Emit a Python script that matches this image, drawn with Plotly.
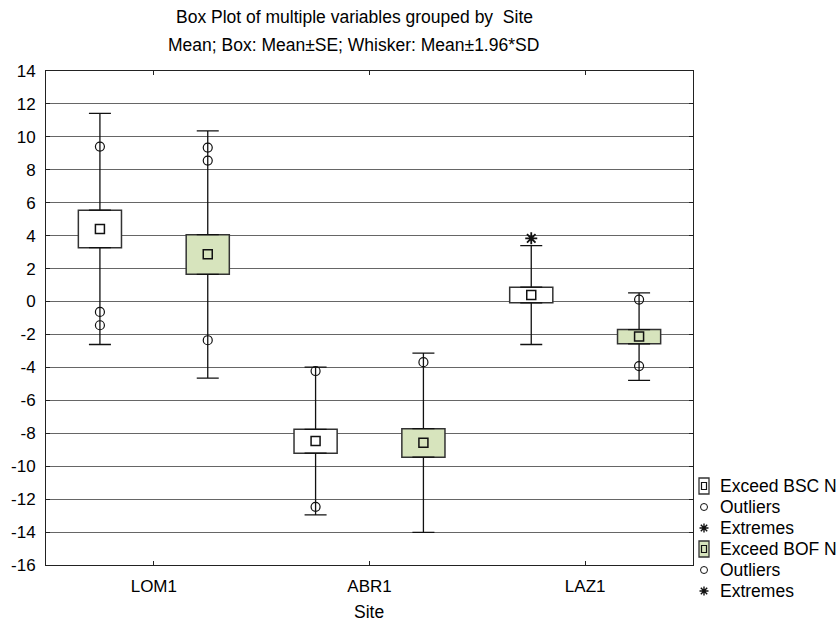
import plotly.graph_objects as go

# ---------------- data ----------------
sites = ["LOM1", "ABR1", "LAZ1"]
series_names = ["Exceed BSC N", "Exceed BOF N"]

bsc_mean = [4.40, -8.47, 0.40]
bsc_box_lo = [3.27, -9.21, -0.08]      # mean - SE
bsc_box_hi = [5.55, -7.76, 0.87]       # mean + SE
bsc_whisk_lo = [-2.61, -12.95, -2.61]  # mean - 1.96*SD
bsc_whisk_hi = [11.43, -3.98, 3.39]    # mean + 1.96*SD
bsc_outliers = [[9.41, -0.63, -1.44], [-4.22, -12.47], []]
bsc_extremes = [[], [], [3.84]]

bof_mean = [2.87, -8.57, -2.13]
bof_box_lo = [1.65, -9.45, -2.57]
bof_box_hi = [4.06, -7.72, -1.70]
bof_whisk_lo = [-4.65, -14.02, -4.79]
bof_whisk_hi = [10.36, -3.13, 0.52]
bof_outliers = [[9.35, 8.56, -2.35], [-3.68], [0.12, -3.92]]
bof_extremes = [[], [], []]

y_ticks = list(range(-16, 15, 2))

title_line1 = "Box Plot of multiple variables grouped by  Site"
title_line2 = "Mean; Box: Mean±SE; Whisker: Mean±1.96*SD"
x_title = "Site"
legend_labels = ["Exceed BSC N", "Outliers", "Extremes",
                 "Exceed BOF N", "Outliers", "Extremes"]

# ---------------- styling ----------------
FONT = "Liberation Sans, Arial, sans-serif"
GREEN = "#d7e4bd"
BOX_LINE = "#333333"
INK = "#111111"
OFFSETS = [-0.25, 0.25]
BOX_W = 0.2

series = [
    dict(name=series_names[0], fill="white", mean=bsc_mean, lo=bsc_box_lo, hi=bsc_box_hi,
         wlo=bsc_whisk_lo, whi=bsc_whisk_hi, out=bsc_outliers, ext=bsc_extremes),
    dict(name=series_names[1], fill=GREEN, mean=bof_mean, lo=bof_box_lo, hi=bof_box_hi,
         wlo=bof_whisk_lo, whi=bof_whisk_hi, out=bof_outliers, ext=bof_extremes),
]

fig = go.Figure()
idx = list(range(len(sites)))

for s, off in zip(series, OFFSETS):
    xpos = [i + off for i in idx]
    # box: mean ± SE
    fig.add_trace(go.Bar(
        x=xpos, base=s["lo"], y=[h - l for h, l in zip(s["hi"], s["lo"])],
        width=BOX_W, marker=dict(color=s["fill"], line=dict(color=BOX_LINE, width=1.5)),
        name=s["name"], showlegend=False, hoverinfo="skip"))
    # upper whisker
    fig.add_trace(go.Scatter(
        x=xpos, y=s["hi"], mode="markers",
        marker=dict(size=1, color="rgba(0,0,0,0)"),
        error_y=dict(type="data", symmetric=False,
                     array=[w - h for w, h in zip(s["whi"], s["hi"])],
                     arrayminus=[0] * len(idx), width=11, thickness=1.3, color=INK),
        showlegend=False, hoverinfo="skip"))
    # lower whisker
    fig.add_trace(go.Scatter(
        x=xpos, y=s["lo"], mode="markers",
        marker=dict(size=1, color="rgba(0,0,0,0)"),
        error_y=dict(type="data", symmetric=False,
                     array=[0] * len(idx),
                     arrayminus=[l - w for l, w in zip(s["lo"], s["wlo"])],
                     width=11, thickness=1.3, color=INK),
        showlegend=False, hoverinfo="skip"))
    # mean marker
    fig.add_trace(go.Scatter(
        x=xpos, y=s["mean"], mode="markers",
        marker=dict(symbol="square", size=9, color=s["fill"], line=dict(color=INK, width=1.5)),
        showlegend=False))
    # outliers
    ox, oy = [], []
    for i, vals in zip(idx, s["out"]):
        for v in vals:
            ox.append(i + off)
            oy.append(v)
    fig.add_trace(go.Scatter(
        x=ox, y=oy, mode="markers",
        marker=dict(symbol="circle-open", size=9, color=INK, line=dict(width=1.2)),
        showlegend=False))
    # extremes
    ex, ey = [], []
    for i, vals in zip(idx, s["ext"]):
        for v in vals:
            ex.append(i + off)
            ey.append(v)
    fig.add_trace(go.Scatter(
        x=ex, y=ey, mode="markers",
        marker=dict(symbol="asterisk-open", size=10, color=INK, line=dict(width=1.8, color=INK)),
        showlegend=False))

# ---------------- layout ----------------
ML, MR, MT, MB = 46, 147, 71, 59
W, H = 840, 624
PW, PH = W - ML - MR, H - MT - MB


def px_x(px):
    return (px - ML) / PW


def px_y(py):
    return (H - MB - py) / PH


fig.update_layout(
    width=W, height=H,
    margin=dict(l=ML, r=MR, t=MT, b=MB),
    paper_bgcolor="white", plot_bgcolor="white",
    font=dict(family=FONT, size=17, color="black"),
    barmode="overlay",
    showlegend=False,
    xaxis=dict(
        range=[-0.5, len(sites) - 0.5], tickvals=idx, ticktext=sites,
        showgrid=False, zeroline=False,
        showline=True, linecolor="#222", linewidth=1, mirror="ticks",
        ticks="inside", ticklen=4, tickcolor="#222",
        ticklabelstandoff=6, tickfont=dict(size=17)),
    yaxis=dict(
        range=[-16, 14], tickvals=y_ticks, ticktext=[str(v) for v in y_ticks],
        showgrid=True, gridcolor="#666", gridwidth=1, zeroline=False,
        showline=True, linecolor="#222", linewidth=1, mirror="ticks",
        ticks="inside", ticklen=4, tickcolor="#222",
        ticklabelstandoff=6, tickfont=dict(size=17)),
)

annotations = [
    dict(text=title_line1, x=px_x(354), y=px_y(17), xref="paper", yref="paper",
         xanchor="center", yanchor="middle", showarrow=False, font=dict(size=17.5)),
    dict(text=title_line2, x=px_x(353), y=px_y(45), xref="paper", yref="paper",
         xanchor="center", yanchor="middle", showarrow=False, font=dict(size=17.5)),
    dict(text=x_title, x=px_x(369), y=px_y(612), xref="paper", yref="paper",
         xanchor="center", yanchor="middle", showarrow=False, font=dict(size=17.5)),
]

# ---------------- legend (manual, Statistica style) ----------------
shapes = []
ICON_X = px_x(704)
for k, label in enumerate(legend_labels):
    yc = px_y(486 + 21 * k)
    annotations.append(dict(text=label, x=px_x(718), y=yc, xref="paper", yref="paper",
                            xanchor="left", yanchor="middle", showarrow=False,
                            font=dict(size=17.5)))
    base = dict(xref="paper", yref="paper", xsizemode="pixel", ysizemode="pixel",
                xanchor=ICON_X, yanchor=yc)
    if k in (0, 3):
        fill = "white" if k == 0 else GREEN
        shapes.append(dict(type="rect", x0=-5, x1=5, y0=-8, y1=8,
                           fillcolor=fill, line=dict(color=BOX_LINE, width=1.3), **base))
        shapes.append(dict(type="rect", x0=-2.5, x1=2.5, y0=-3.5, y1=3.5,
                           fillcolor=fill, line=dict(color=INK, width=1.2), **base))
    elif k in (1, 4):
        shapes.append(dict(type="circle", x0=-3.5, x1=3.5, y0=-3.5, y1=3.5,
                           fillcolor="rgba(0,0,0,0)", line=dict(color=INK, width=1), **base))
    else:
        shapes.append(dict(type="path",
                           path="M0,-4.5 L0,4.5 M-4.5,0 L4.5,0 M-3.2,-3.2 L3.2,3.2 M-3.2,3.2 L3.2,-3.2",
                           line=dict(color=INK, width=1.4), **base))

fig.update_layout(annotations=annotations, shapes=shapes)

fig.write_html(
    "out.html",
    config={"displayModeBar": False},
    post_script="document.body.style.margin='0';document.body.style.padding='0';"
                "document.documentElement.style.overflow='hidden';",
)
